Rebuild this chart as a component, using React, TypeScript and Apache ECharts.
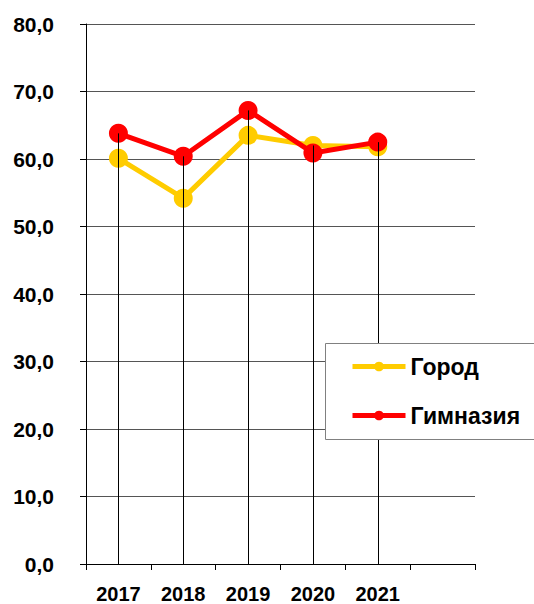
import React, { useEffect, useRef } from "react";
import * as echarts from "echarts";

const categories = ["2017", "2018", "2019", "2020", "2021", ""];
const cityValues = [60.1, 54.2, 63.5, 62.0, 61.8];
const gymnasiumValues = [63.8, 60.4, 67.2, 60.9, 62.5];
const seriesNames = ["Город", "Гимназия"];
const yMin = 0;
const yMax = 80;
const yInterval = 10;

const FONT = "'Liberation Sans', Arial, sans-serif";

export default function App() {
  const ref = useRef<HTMLDivElement>(null);
  useEffect(() => {
    if (!ref.current) return;
    const chart = echarts.init(ref.current, undefined, { renderer: "svg" });
    const dropData = cityValues.map((v, i) => [i, Math.max(v, gymnasiumValues[i])]);
    chart.setOption({
      animation: false,
      backgroundColor: "#fff",
      grid: { left: 86, right: 59, top: 24, bottom: 38, containLabel: false },
      xAxis: {
        type: "category",
        data: categories,
        boundaryGap: true,
        axisLine: { show: true, lineStyle: { color: "#000", width: 1 } },
        axisTick: { show: true, interval: 0, length: 6, lineStyle: { color: "#000" } },
        axisLabel: {
          interval: 0,
          margin: 20,
          color: "#000",
          fontFamily: FONT,
          fontWeight: "bold",
          fontSize: 20,
        },
        splitLine: { show: false },
      },
      yAxis: {
        type: "value",
        min: yMin,
        max: yMax,
        interval: yInterval,
        axisLine: { show: true, lineStyle: { color: "#000", width: 1 } },
        axisTick: { show: true, length: 6, lineStyle: { color: "#000" } },
        axisLabel: {
          margin: 32,
          color: "#000",
          fontFamily: FONT,
          fontWeight: "bold",
          fontSize: 21,
          formatter: (v: number) => v.toFixed(1).replace(".", ","),
        },
        splitLine: { show: true, lineStyle: { color: "#555", width: 1 } },
      },
      legend: {
        orient: "vertical",
        left: 350,
        top: 355,
        itemWidth: 53,
        itemHeight: 12,
        itemGap: 26,
        padding: 0,
        z: 12,
        lineStyle: { width: 5 },
        textStyle: { color: "#000", fontFamily: FONT, fontWeight: "bold", fontSize: 23 },
        data: seriesNames,
      },
      graphic: [
        {
          type: "rect",
          z: 10,
          shape: { x: 325.5, y: 343.5, width: 240, height: 96 },
          style: { fill: "#fff", stroke: "#808080", lineWidth: 1 },
        },
      ],
      series: [
        {
          name: seriesNames[0],
          type: "line",
          data: cityValues,
          symbol: "circle",
          symbolSize: 19,
          z: 2,
          itemStyle: { color: "#FFCC00" },
          lineStyle: { color: "#FFCC00", width: 5 },
        },
        {
          name: seriesNames[1],
          type: "line",
          data: gymnasiumValues,
          symbol: "circle",
          symbolSize: 19,
          z: 3,
          itemStyle: { color: "#FF0000" },
          lineStyle: { color: "#FF0000", width: 5 },
        },
        {
          name: "drop",
          type: "custom",
          z: 4,
          silent: true,
          data: dropData,
          renderItem: (params: any, api: any) => {
            const top = api.coord([api.value(0), api.value(1)]);
            const bottom = api.coord([api.value(0), 0]);
            const x = Math.round(top[0]) + 0.5;
            return {
              type: "line",
              shape: { x1: x, y1: top[1], x2: x, y2: bottom[1] },
              style: { stroke: "#000", lineWidth: 1 },
            };
          },
        },
      ],
    });
    return () => chart.dispose();
  }, []);
  return (
    <div
      ref={ref}
      style={{ position: "fixed", left: 0, top: 0, width: 534, height: 604 }}
    />
  );
}
